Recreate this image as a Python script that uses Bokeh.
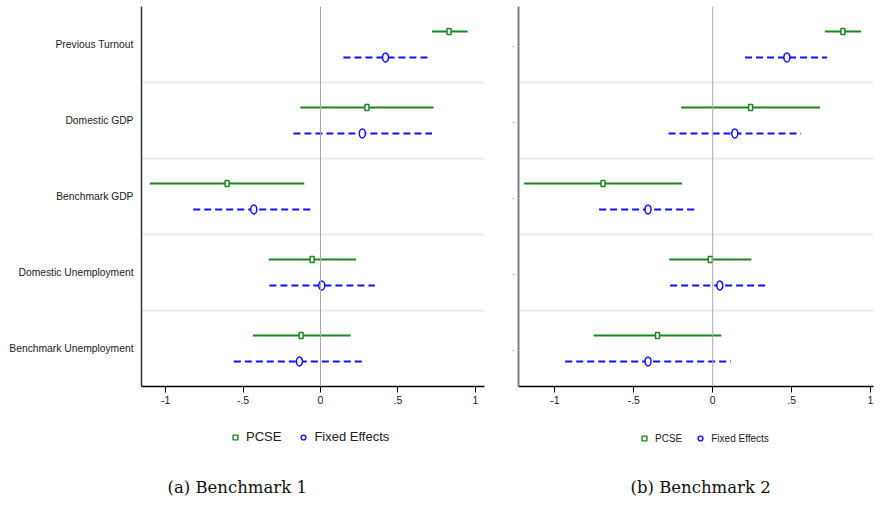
from bokeh.plotting import figure
from bokeh.layouts import row, column
from bokeh.models import ColumnDataSource, FixedTicker, Span, Legend, LegendItem, Label, Range1d
from bokeh.embed import file_html
from bokeh.resources import INLINE

# ---- data ----
categories = ["Previous Turnout", "Domestic GDP", "Benchmark GDP",
              "Domestic Unemployment", "Benchmark Unemployment"]
x_ticks = [-1, -0.5, 0, 0.5, 1]
x_tick_labels = ["-1", "-.5", "0", ".5", "1"]

# Benchmark 1
b1_pcse_est = [0.83, 0.30, -0.603, -0.054, -0.125]
b1_pcse_lo = [0.72, -0.13, -1.102, -0.334, -0.437]
b1_pcse_hi = [0.95, 0.73, -0.105, 0.230, 0.194]
b1_fe_est = [0.42, 0.27, -0.431, 0.008, -0.136]
b1_fe_lo = [0.148, -0.175, -0.822, -0.330, -0.560]
b1_fe_hi = [0.697, 0.72, -0.049, 0.351, 0.286]

# Benchmark 2
b2_pcse_est = [0.825, 0.24, -0.695, -0.015, -0.35]
b2_pcse_lo = [0.71, -0.20, -1.195, -0.275, -0.755]
b2_pcse_hi = [0.94, 0.68, -0.195, 0.245, 0.055]
b2_fe_est = [0.47, 0.14, -0.41, 0.045, -0.41]
b2_fe_lo = [0.205, -0.28, -0.72, -0.27, -0.935]
b2_fe_hi = [0.725, 0.56, -0.10, 0.355, 0.115]

series_names = ["PCSE", "Fixed Effects"]
captions = ["(a)  Benchmark 1", "(b)  Benchmark 2"]

GREEN = "#1f861f"
BLUE = "#1010ff"
SANS = "Liberation Sans"
SERIF = "DejaVu Serif"


def panel(est_p, lo_p, hi_p, est_f, lo_f, hi_f, caption, show_labels,
          frame_w, border_left, border_right, x_start, x_end,
          leg_font, leg_spacing, leg_sizes, leg_x, axis_color, axis_width, cap_x):
    n = len(categories)
    centers = [n - i - 0.5 for i in range(n)]
    off = 0.17
    src_p = ColumnDataSource(dict(y=[c + off for c in centers], est=est_p, lo=lo_p, hi=hi_p))
    src_f = ColumnDataSource(dict(y=[c - off for c in centers], est=est_f, lo=lo_f, hi=hi_f))

    p = figure(frame_width=frame_w, frame_height=380, output_backend="svg", toolbar_location=None,
               x_range=Range1d(x_start, x_end), y_range=Range1d(0, n),
               min_border_left=border_left, min_border_right=border_right,
               min_border_top=6, min_border_bottom=26)
    p.outline_line_color = None
    p.background_fill_color = "white"

    # grid between rows
    p.xgrid.visible = False
    p.ygrid.ticker = FixedTicker(ticks=list(range(1, n)))
    p.ygrid.grid_line_color = "#e6edf0"
    p.ygrid.grid_line_width = 2

    p.add_layout(Span(location=0, dimension="height", line_color="#a8a8a8", line_width=1))

    # x axis
    xa = p.xaxis[0]
    xa.ticker = FixedTicker(ticks=x_ticks)
    xa.major_label_overrides = {t: l for t, l in zip(x_ticks, x_tick_labels)}
    xa.axis_line_color = "black"
    xa.axis_line_width = 1.5
    xa.major_tick_line_color = "black"
    xa.major_tick_out = 6
    xa.major_tick_in = 0
    xa.minor_tick_line_color = None
    xa.major_label_text_font = SANS
    xa.major_label_text_font_size = "10.5px"
    xa.major_label_text_color = "#222222"
    xa.major_label_standoff = 3

    # y axis
    ya = p.yaxis[0]
    ya.ticker = FixedTicker(ticks=centers)
    if show_labels:
        ya.major_label_overrides = {c: lab for c, lab in zip(centers, categories)}
        ya.major_label_text_font_size = "10.3px"
        ya.major_label_standoff = 8
    else:
        ya.major_label_overrides = {c: "." for c in centers}
        ya.major_label_text_font_size = "7px"
        ya.major_label_standoff = 4
    ya.major_label_text_font = SANS
    ya.major_label_text_color = "#222222"
    ya.axis_line_color = axis_color
    ya.axis_line_width = axis_width
    ya.major_tick_line_color = None
    ya.major_tick_out = 0
    ya.major_tick_in = 0
    ya.minor_tick_line_color = None

    # CI lines
    p.segment(x0="lo", y0="y", x1="hi", y1="y", source=src_p,
              line_color=GREEN, line_width=2)
    p.segment(x0="lo", y0="y", x1="hi", y1="y", source=src_f,
              line_color=BLUE, line_width=2, line_dash="7 4")
    # point estimates
    p.rect(x="est", y="y", width=4, height=6, width_units="screen", height_units="screen",
           source=src_p, fill_color="white", line_color=GREEN, line_width=1.5)
    p.ellipse(x="est", y="y", width=6, height=9, width_units="screen", height_units="screen",
              source=src_f, fill_color="white", line_color=BLUE, line_width=1.5)

    # ---- strip below: legend + caption (frame aligned with the plot above) ----
    total_w = border_left + frame_w + border_right
    q = figure(width=total_w, height=84, output_backend="svg", toolbar_location=None,
               x_axis_type=None, y_axis_type=None,
               x_range=Range1d(0, 1), y_range=Range1d(0, 1),
               min_border_left=0, min_border_right=0, min_border_top=0, min_border_bottom=0)
    q.outline_line_color = None
    q.grid.visible = False
    rp = q.scatter(x="est", y="y", source=src_p, marker="square", size=leg_sizes[0],
                   fill_color="white", line_color=GREEN, line_width=1.4, visible=False)
    rf = q.scatter(x="est", y="y", source=src_f, marker="circle", size=leg_sizes[1],
                   fill_color="white", line_color=BLUE, line_width=1.4, visible=False)
    leg = Legend(items=[LegendItem(label=series_names[0], renderers=[rp]),
                        LegendItem(label=series_names[1], renderers=[rf])],
                 orientation="horizontal", location=(leg_x, 52),
                 border_line_color=None, background_fill_alpha=0,
                 label_text_font=SANS, label_text_font_size=leg_font,
                 label_text_color="#222222",
                 glyph_width=12, glyph_height=12, label_standoff=5,
                 spacing=leg_spacing, padding=6, margin=0)
    q.add_layout(leg, "center")
    q.add_layout(Label(x=cap_x, y=9, x_units="screen", y_units="screen",
                       text=caption, text_font=SERIF, text_font_size="16.5px",
                       text_baseline="middle", text_align="left", text_color="#111111"))
    return column(p, q)


c1 = panel(b1_pcse_est, b1_pcse_lo, b1_pcse_hi, b1_fe_est, b1_fe_lo, b1_fe_hi,
           captions[0], True, 343, 141, 12, -1.156, 1.059,
           "13px", 16, (6, 7), 88, "#333333", 1.5, 26)
c2 = panel(b2_pcse_est, b2_pcse_lo, b2_pcse_hi, b2_fe_est, b2_fe_lo, b2_fe_hi,
           captions[1], False, 355, 22, 2, -1.231, 1.019,
           "10px", 12, (5, 6), 120, "#808080", 2, 112)

layout = row(c1, c2)
open("out.html", "w").write(file_html(layout, INLINE))
